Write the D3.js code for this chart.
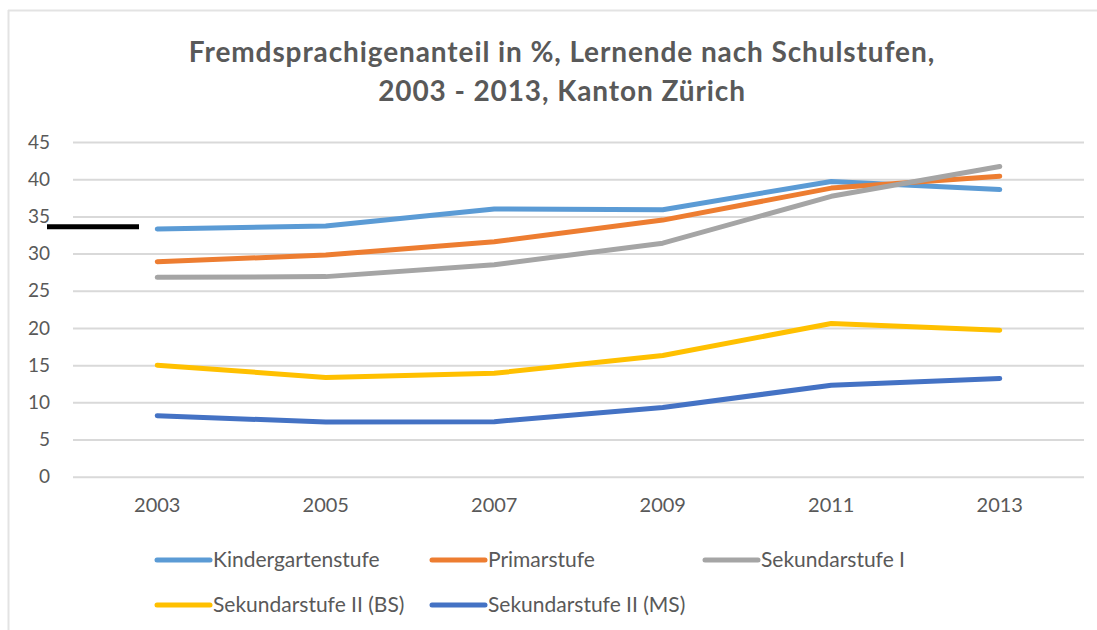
<!DOCTYPE html>
<html>
<head>
<meta charset="utf-8">
<script src="https://cdn.jsdelivr.net/npm/d3@7"></script>
<style>
html,body{margin:0;padding:0;background:#fff;}
svg{display:block;}
text{font-family:Lato, "Open Sans", sans-serif;}
</style>
</head>
<body>
<svg id="chart" width="1097" height="630"></svg>
<script>
const years = ["2003","2005","2007","2009","2011","2013"];
const seriesNames = ["Kindergartenstufe","Primarstufe","Sekundarstufe I","Sekundarstufe II (BS)","Sekundarstufe II (MS)"];
const kindergarten = [33.3, 33.7, 36.0, 35.9, 39.7, 38.6];
const primar = [28.9, 29.8, 31.6, 34.5, 38.8, 40.4];
const sekI = [26.8, 26.9, 28.5, 31.4, 37.7, 41.7];
const sekIIBS = [15.0, 13.35, 13.9, 16.3, 20.6, 19.7];
const sekIIMS = [8.2, 7.35, 7.4, 9.3, 12.3, 13.2];
const yTicks = [0,5,10,15,20,25,30,35,40,45];
const colors = ["#5b9bd5","#ed7d31","#a5a5a5","#ffc000","#4472c4"];
const titleLines = ["Fremdsprachigenanteil in %, Lernende nach Schulstufen,","2003 - 2013, Kanton Zürich"];
const markerValue = 33.6;

const allSeries = [kindergarten, primar, sekI, sekIIBS, sekIIMS];

const svg = d3.select("#chart");

// frame
svg.append("line").attr("x1",8).attr("x2",1097).attr("y1",10.5).attr("y2",10.5).attr("stroke","#e3e3e3").attr("stroke-width",2);
svg.append("line").attr("x1",8.5).attr("x2",8.5).attr("y1",10).attr("y2",630).attr("stroke","#e3e3e3").attr("stroke-width",2);

const pLeft = 73, pRight = 1084, pTop = 142, pBottom = 476.7;
const x = d3.scaleBand().domain(years).range([pLeft,pRight]);
const y = d3.scaleLinear().domain([0,45]).range([pBottom,pTop]);

// title
svg.append("text").attr("x",562).attr("y",62).attr("text-anchor","middle")
  .attr("font-size",28).attr("letter-spacing",0.9).attr("font-weight","bold").attr("fill","#595959").text(titleLines[0]);
svg.append("text").attr("x",562).attr("y",101).attr("text-anchor","middle")
  .attr("font-size",28).attr("letter-spacing",0.9).attr("font-weight","bold").attr("fill","#595959").text(titleLines[1]);

// gridlines
const yAxis = d3.axisLeft(y).tickValues(yTicks).tickSize(-(pRight-pLeft)).tickPadding(23);
const gy = svg.append("g").attr("transform",`translate(${pLeft},0)`).call(yAxis);
gy.select(".domain").remove();
gy.selectAll(".tick line").attr("stroke","#d9d9d9").attr("stroke-width",2);
gy.selectAll(".tick text").attr("font-size",19).attr("fill","#595959").attr("font-family","Lato, sans-serif");

// x axis labels
const xAxis = d3.axisBottom(x).tickSize(0).tickPadding(21);
const gx = svg.append("g").attr("transform",`translate(0,${pBottom})`).call(xAxis);
gx.select(".domain").remove();
gx.selectAll(".tick text").attr("font-size",20).attr("fill","#595959").attr("font-family","Lato, sans-serif");

// marker line (black bar)
svg.append("line").attr("x1",47).attr("x2",139).attr("y1",y(markerValue)).attr("y2",y(markerValue))
  .attr("stroke","#000").attr("stroke-width",5);

// lines
const line = d3.line().x((d,i)=>x(years[i])+x.bandwidth()/2).y(d=>y(d));
allSeries.forEach((s,k)=>{
  svg.append("path").datum(s).attr("d",line).attr("fill","none")
    .attr("stroke",colors[k]).attr("stroke-width",5).attr("stroke-linecap","round").attr("stroke-linejoin","round");
});

// legend
const legendPos = [[157,560],[432,560],[705,560],[157,605],[432,605]];
seriesNames.forEach((n,k)=>{
  const [lx,ly] = legendPos[k];
  svg.append("line").attr("x1",lx).attr("x2",lx+53).attr("y1",ly).attr("y2",ly)
    .attr("stroke",colors[k]).attr("stroke-width",5).attr("stroke-linecap","round");
  svg.append("text").attr("x",lx+56).attr("y",ly).attr("dy","0.35em")
    .attr("font-size",21).attr("fill","#595959").text(n);
});
</script>
</body>
</html>
